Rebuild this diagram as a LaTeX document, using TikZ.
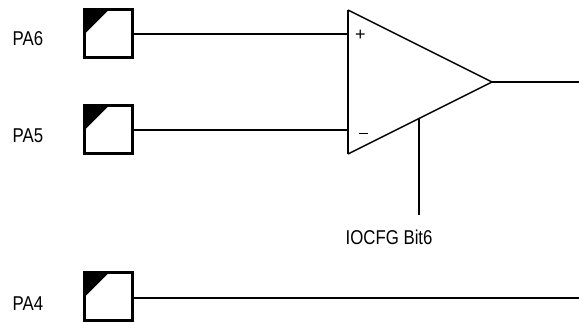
\documentclass[tikz,border=0pt]{standalone}
\usepackage{fontspec}
\setmainfont{Liberation Sans}
\newcommand{\lbl}[1]{\scalebox{0.84}[1]{#1}}
\tikzset{
  padbox/.style={draw=black,line width=3pt,fill=white,minimum width=48pt,minimum height=48pt,inner sep=0pt,outer sep=0pt},
  wire/.style={draw=black,line width=2pt},
  lab/.style={inner sep=0pt,font=\fontsize{20pt}{22pt}\selectfont,text=black}
}
\begin{document}
\begin{tikzpicture}[x=1pt,y=-1pt]
\useasboundingbox (0,0) rectangle (579,322);
\node[padbox] (p6) at (108.5,33.5) {};
\node[padbox] (p5) at (108.5,129.5) {};
\node[padbox] (p4) at (108.5,296.5) {};
\fill[black] (84.5,9.5) -- (109,9.5) -- (84.5,34) -- cycle;
\fill[black] (84.5,105.5) -- (109,105.5) -- (84.5,130) -- cycle;
\fill[black] (84.5,272.5) -- (109,272.5) -- (84.5,297) -- cycle;
\coordinate (ta) at (348,10);
\coordinate (tb) at (348,154);
\coordinate (tc) at (492,82);
\coordinate (inp) at (348,34);
\coordinate (inn) at (348,130);
\coordinate (ctl) at (419,118);
\coordinate (ctlend) at (419,215);
\coordinate (outend) at (579,82);
\coordinate (p4end) at (579,298);
\coordinate (p6r) at (132.5,34);
\coordinate (p5r) at (132.5,130);
\coordinate (p4r) at (132.5,298);
\draw[wire] (p6r) -- (inp);
\draw[wire] (p5r) -- (inn);
\draw[wire] (p4r) -- (p4end);
\draw[wire] (tc) -- (outend);
\draw[wire] (ctl) -- (ctlend);
\draw[black,line width=1.5pt,line join=miter] (ta) -- (tc) -- (tb);
\draw[black,line width=2pt] (ta) -- (tb);
\node[lab,anchor=base west] (l6) at (12.5,45.5) {\lbl{PA6}};
\node[lab,anchor=base west] (l5) at (12.5,142) {\lbl{PA5}};
\node[lab,anchor=base west] (l4) at (12.5,310) {\lbl{PA4}};
\node[lab,anchor=base west] (lb) at (345.5,244.5) {\lbl{IOCFG Bit6}};
\node[inner sep=0pt,font=\fontsize{18pt}{18pt}\selectfont] (plus) at (360.4,35) {+};
\node[inner sep=0pt] (minus) at (363.7,133.7) {\rule{8.5pt}{1pt}};
\end{tikzpicture}
\end{document}
